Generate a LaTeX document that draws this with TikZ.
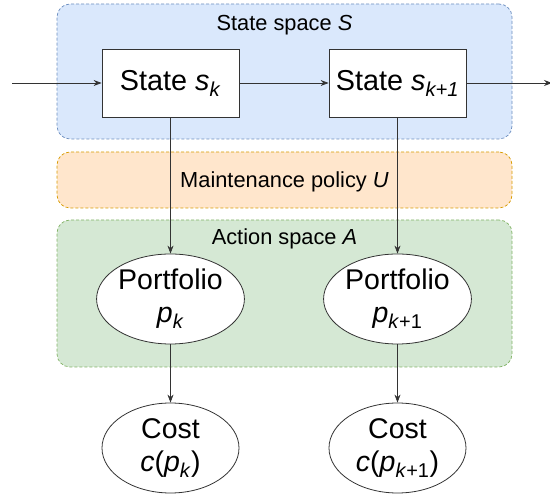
\documentclass[tikz,border=0pt]{standalone}
\usepackage{fontspec}
\setmainfont{Liberation Sans}
\usepackage{xcolor}
\usepackage{tikz}
\usetikzlibrary{
positioning,
shapes.geometric,
arrows.meta
}
\definecolor{skyfill}{HTML}{DAE8FC}
\definecolor{skyline}{HTML}{6C8EBF}
\definecolor{sandfill}{HTML}{FFE6CC}
\definecolor{sandline}{HTML}{D79B00}
\definecolor{leaffill}{HTML}{D5E8D4}
\definecolor{leafline}{HTML}{82B366}
\definecolor{wire}{HTML}{333333}

\tikzset{
region/.style={
rectangle,
rounded corners=13pt,
dash pattern=on 3pt off 2pt,
line width=0.7pt,
minimum width=455pt
},
statebox/.style={
rectangle,
draw=wire,
fill=white,
line width=0.8pt,
minimum width=137pt,
minimum height=68pt,
inner sep=0pt,
font=\fontsize{28.8}{33}\selectfont
},
blob/.style={
ellipse,
draw=wire,
fill=white,
line width=0.8pt,
minimum width=137pt,
minimum height=90pt,
inner sep=0pt,
align=center,
font=\fontsize{28.5}{33}\selectfont
},
tag/.style={
font=\fontsize{21.8}{25}\selectfont
},
flow/.style={
draw=wire,
line width=0.8pt,
-{Stealth[length=8pt,width=6pt]}
}
}

\begin{document}
\begin{tikzpicture}[x=1pt,y=-1pt]

\useasboundingbox (0,0) rectangle (550,494);

% regions
\node[
region,
draw=skyline,
fill=skyfill,
minimum height=135pt
]
(sspace) at (284.5,71.5)
{};

\node[
region,
draw=sandline,
fill=sandfill,
minimum height=56pt
]
(policy) at (284.5,180)
{};

\node[
region,
draw=leafline,
fill=leaffill,
minimum height=147pt
]
(aspace) at (284.5,293.5)
{};

\node[tag] (sspacetag) at (284.5,25) {State space \textit{S}};
\node[tag] (policytag) at (284.5,182) {Maintenance policy \textit{U}};
\node[tag] (aspacetag) at (284.5,239) {Action space \textit{A}};

% states
\node[statebox] (sk) at (170.5,83)
{State \textit{s}\textsubscript{\textit{k}}};
\node[statebox] (sk1) at (397.5,83)
{State \textit{s}\textsubscript{\textit{k+1}}};

% portfolios and costs
\node[blob] (pk) at (170.5,299)
{Portfolio\\\textit{p}\textsubscript{\textit{k}}};
\node[blob] (pk1) at (397.5,299)
{Portfolio\\\textit{p}\textsubscript{\textit{k}+1}};

\node[blob] (ck) at (170.5,448)
{Cost\\\textit{c}(\textit{p}\textsubscript{\textit{k}})};
\node[blob] (ck1) at (397.5,448)
{Cost\\\textit{c}(\textit{p}\textsubscript{\textit{k}+1})};

\coordinate (src) at (12,83);
\coordinate (snk) at (552,83);

% connectors
\draw[flow] (src) -- (sk);
\draw[flow] (sk) -- (sk1);
\draw[flow] (sk1) -- (snk);
\draw[flow] (sk) -- (pk);
\draw[flow] (sk1) -- (pk1);
\draw[flow] (pk) -- (ck);
\draw[flow] (pk1) -- (ck1);

\end{tikzpicture}
\end{document}
